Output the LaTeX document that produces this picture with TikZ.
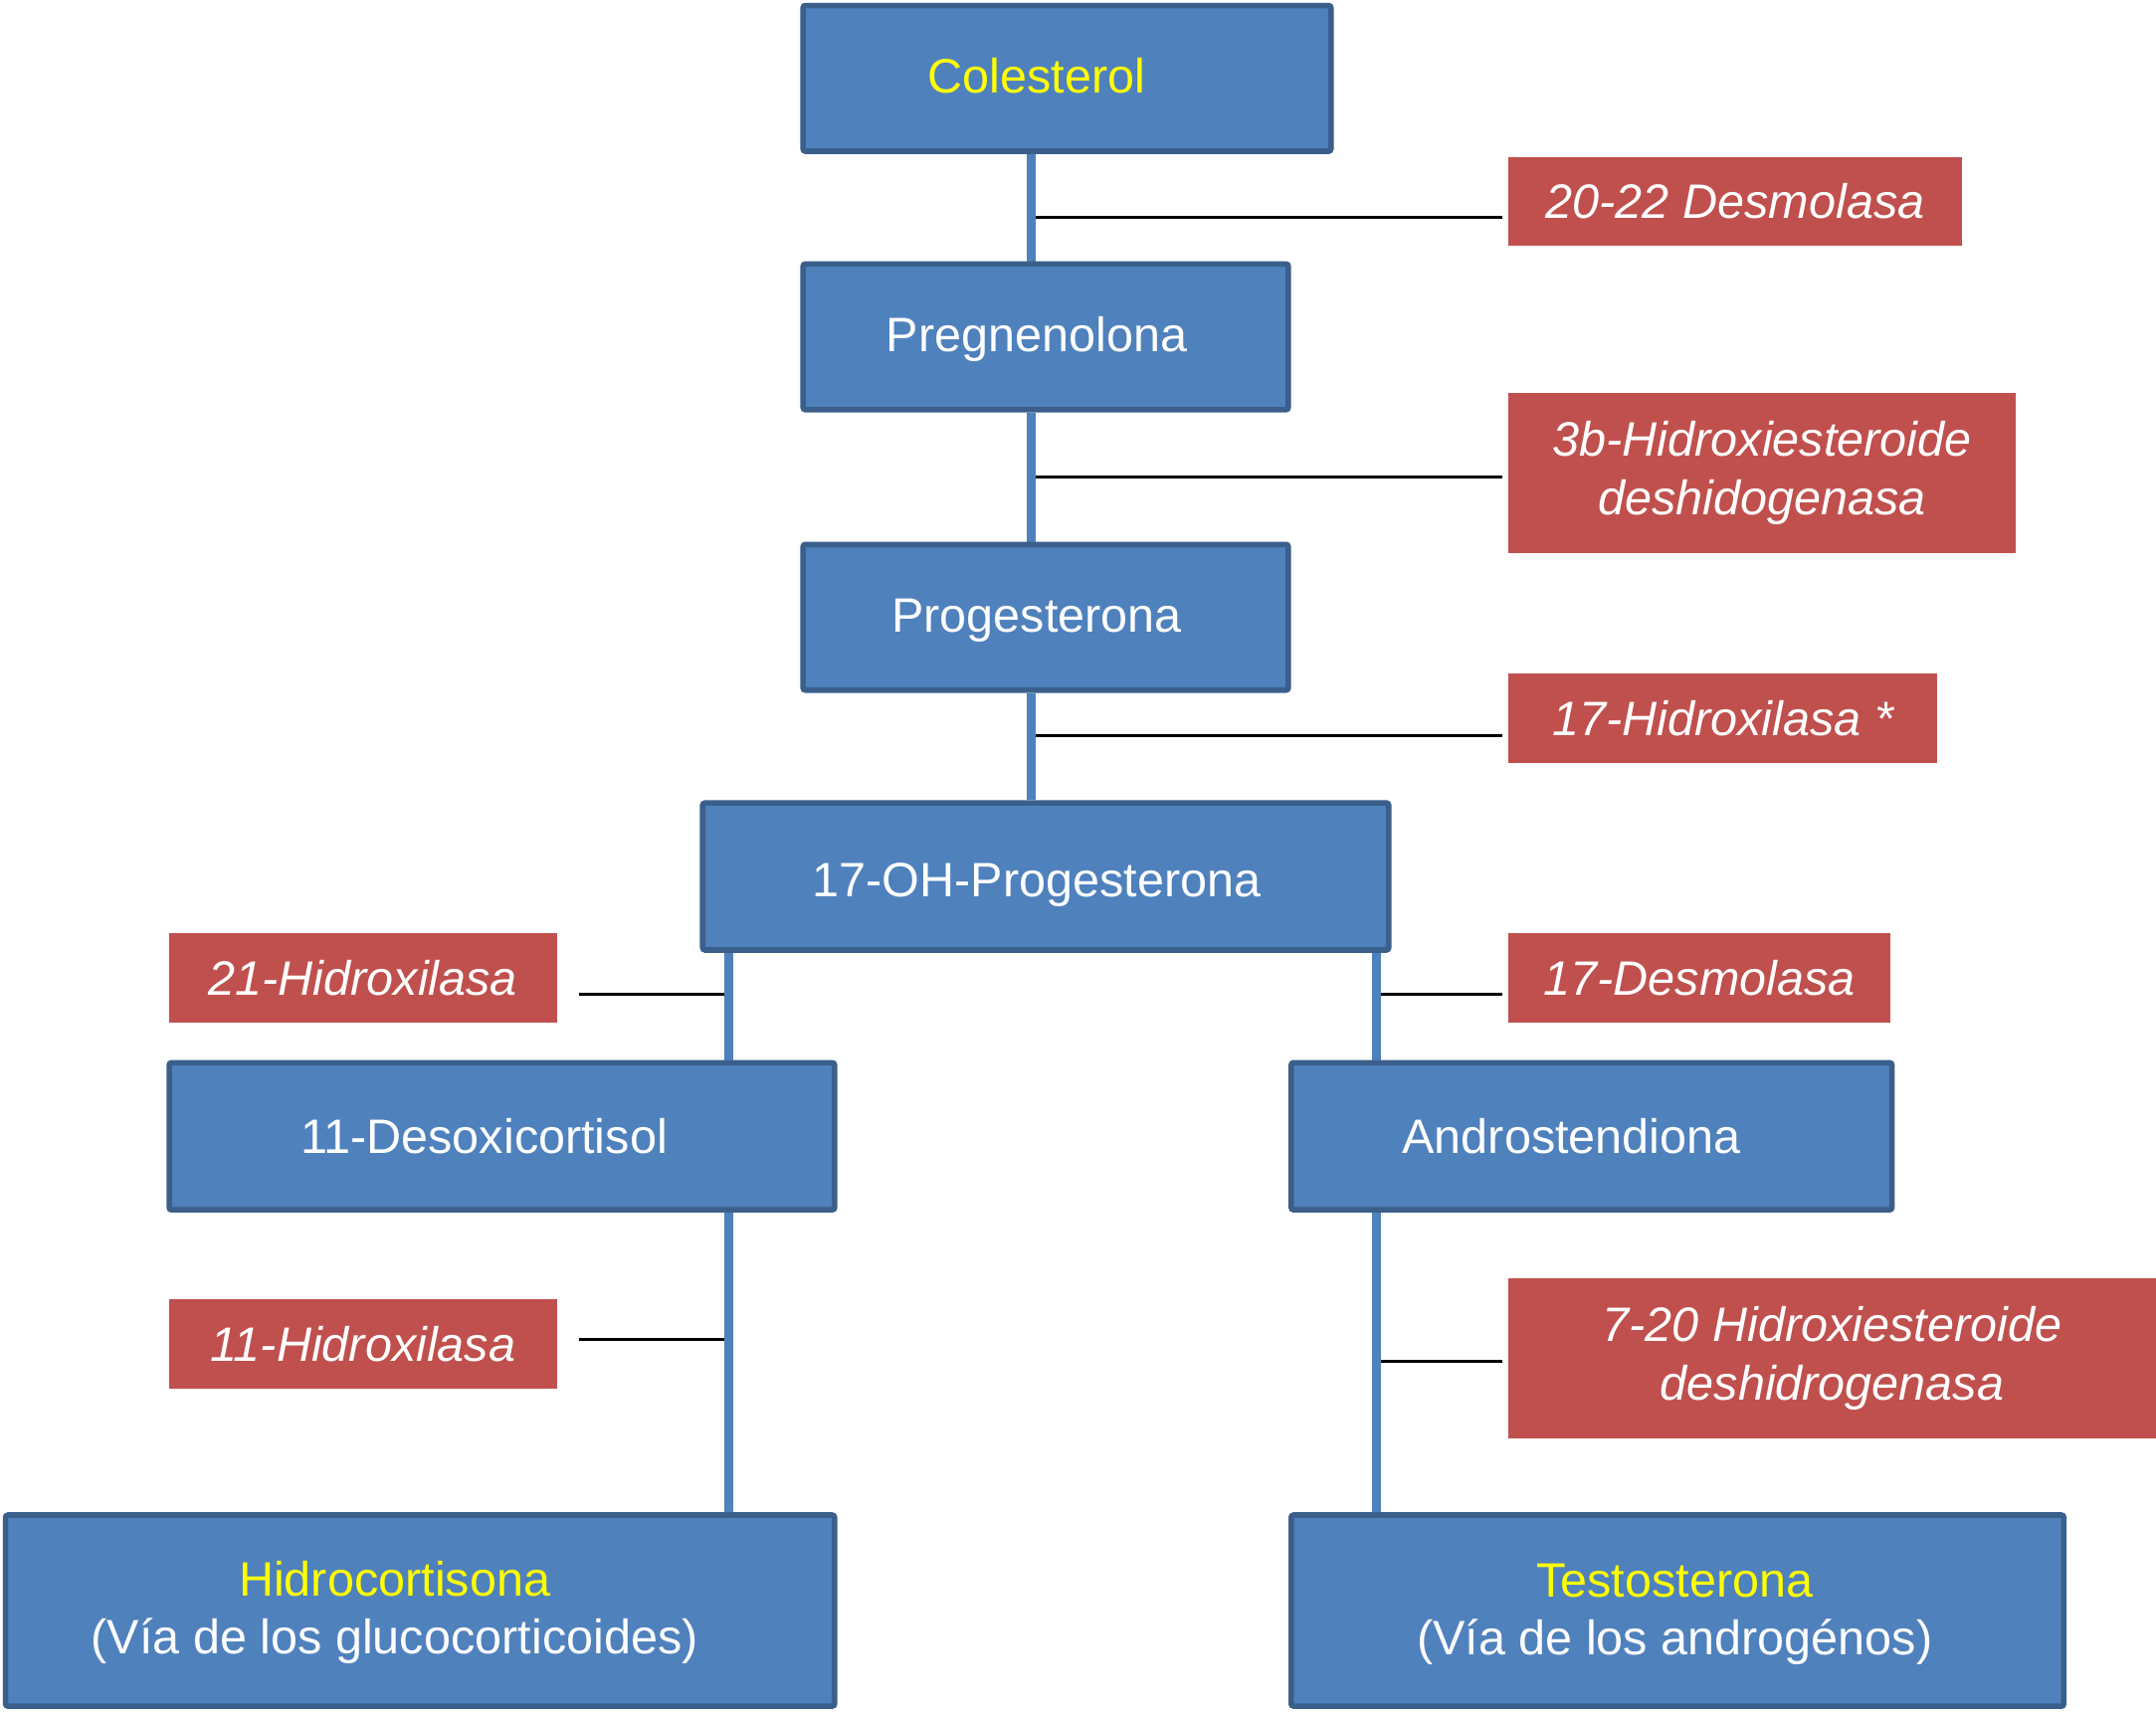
\documentclass[tikz,border=0pt]{standalone}
\usepackage{fontspec}
\setmainfont{Liberation Sans}
\usetikzlibrary{backgrounds}

\definecolor{boxblue}{HTML}{4F81BD}
\definecolor{boxedge}{HTML}{3A5F8B}
\definecolor{enzred}{HTML}{C0504D}
\definecolor{hiyellow}{HTML}{FFFF00}

\tikzset{
  bluebox/.style={draw=boxedge, fill=boxblue, line width=2.3pt, rounded corners=1pt, inner sep=0pt},
  enzbox/.style={fill=enzred, text=white, font=\fontsize{20}{24}\selectfont\itshape, align=center, inner sep=0pt},
  boxtext/.style={text=white, font=\fontsize{20}{24}\selectfont, align=center, inner sep=0pt},
  stem/.style={draw=boxblue, line width=4pt},
  tick/.style={draw=black, line width=1.2pt, shorten >=0.08cm}
}

\begin{document}
\begin{tikzpicture}[x=0.02cm, y=-0.02cm]
    \useasboundingbox (0,0) rectangle (1568,1245.2);

    % Steroid boxes
    \node[bluebox, minimum width=7.68cm, minimum height=2.12cm] (colesterol) at (776,57) {};
    \node[bluebox, minimum width=7.06cm, minimum height=2.12cm] (pregnenolona) at (760.5,245) {};
    \node[bluebox, minimum width=7.06cm, minimum height=2.12cm] (progesterona) at (760.5,449) {};
    \node[bluebox, minimum width=9.98cm, minimum height=2.14cm] (ohprog) at (760.5,637.5) {};
    \node[bluebox, minimum width=9.68cm, minimum height=2.14cm] (desoxi) at (365,826.5) {};
    \node[bluebox, minimum width=8.74cm, minimum height=2.14cm] (androst) at (1157.5,826.5) {};
    \node[bluebox, minimum width=12.06cm, minimum height=2.78cm] (hidrocort) at (305.5,1171.5) {};
    \node[bluebox, minimum width=11.24cm, minimum height=2.78cm] (testost) at (1220,1171.5) {};

    % Box texts
    \node[boxtext, text=hiyellow, anchor=base] (colesterolT) at (754,68) {Colesterol};
    \node[boxtext, anchor=base] (pregnenolonaT) at (754,256) {Pregnenolona};
    \node[boxtext, anchor=base] (progesteronaT) at (754,460) {Progesterona};
    \node[boxtext, anchor=base] (ohprogT) at (754,652) {17-OH-Progesterona};
    \node[boxtext, anchor=base] (desoxiT) at (352,839) {11-Desoxicortisol};
    \node[boxtext, anchor=base] (androstT) at (1143,839) {Androstendiona};
    \node[boxtext] (hidrocortT) at (287,1173) {\textcolor{hiyellow}{Hidrocortisona}\\(Vía de los glucocorticoides)};
    \node[boxtext] (testostT) at (1218,1174) {\textcolor{hiyellow}{Testosterona}\\(Vía de los androgénos)};

    % Enzymes
    \node[enzbox, minimum width=6.6cm, minimum height=1.3cm] (desm2022) at (1262,146.5) {20-22 Desmolasa};
    \node[enzbox, minimum width=7.38cm, minimum height=2.32cm] (hsd3b) at (1281.5,344) {3b-Hidroxiesteroide\\deshidogenasa};
    \node[enzbox, minimum width=6.24cm, minimum height=1.3cm] (hid17) at (1253,522.5) {17-Hidroxilasa *};
    \node[enzbox, minimum width=5.64cm, minimum height=1.3cm] (hid21) at (264,711.5) {21-Hidroxilasa};
    \node[enzbox, minimum width=5.56cm, minimum height=1.3cm] (desm17) at (1236,711.5) {17-Desmolasa};
    \node[enzbox, minimum width=5.64cm, minimum height=1.3cm] (hid11) at (264,977.5) {11-Hidroxilasa};
    \node[enzbox, minimum width=9.42cm, minimum height=2.32cm] (hsd720) at (1332.5,988) {7-20 Hidroxiesteroide\\deshidrogenasa};

    % Stems and enzyme ticks
    \coordinate (trunk) at (750,0);
    \coordinate (lstem) at (530,0);
    \coordinate (rstem) at (1001,0);
    \coordinate (j1) at (750,158);
    \coordinate (j2) at (750,347);
    \coordinate (j3) at (750,535);
    \coordinate (j21) at (530,723);
    \coordinate (j17) at (1001,723);
    \coordinate (j11) at (530,974);
    \coordinate (j720) at (1001,990);
    \begin{scope}[on background layer]
        \draw[tick] (j1) -- (j1 -| desm2022.west);
        \draw[tick] (j2) -- (j2 -| hsd3b.west);
        \draw[tick] (j3) -- (j3 -| hid17.west);
        \draw[tick, shorten >=0.32cm] (j21) -- (j21 -| hid21.east);
        \draw[tick] (j17) -- (j17 -| desm17.west);
        \draw[tick, shorten >=0.32cm] (j11) -- (j11 -| hid11.east);
        \draw[tick] (j720) -- (j720 -| hsd720.west);

        \draw[stem] (colesterol.south -| trunk) -- (pregnenolona.north -| trunk);
        \draw[stem] (pregnenolona.south -| trunk) -- (progesterona.north -| trunk);
        \draw[stem] (progesterona.south -| trunk) -- (ohprog.north -| trunk);
        \draw[stem] (ohprog.south -| lstem) -- (desoxi.north -| lstem);
        \draw[stem] (desoxi.south -| lstem) -- (hidrocort.north -| lstem);
        \draw[stem] (ohprog.south -| rstem) -- (androst.north -| rstem);
        \draw[stem] (androst.south -| rstem) -- (testost.north -| rstem);
    \end{scope}
\end{tikzpicture}
\end{document}
